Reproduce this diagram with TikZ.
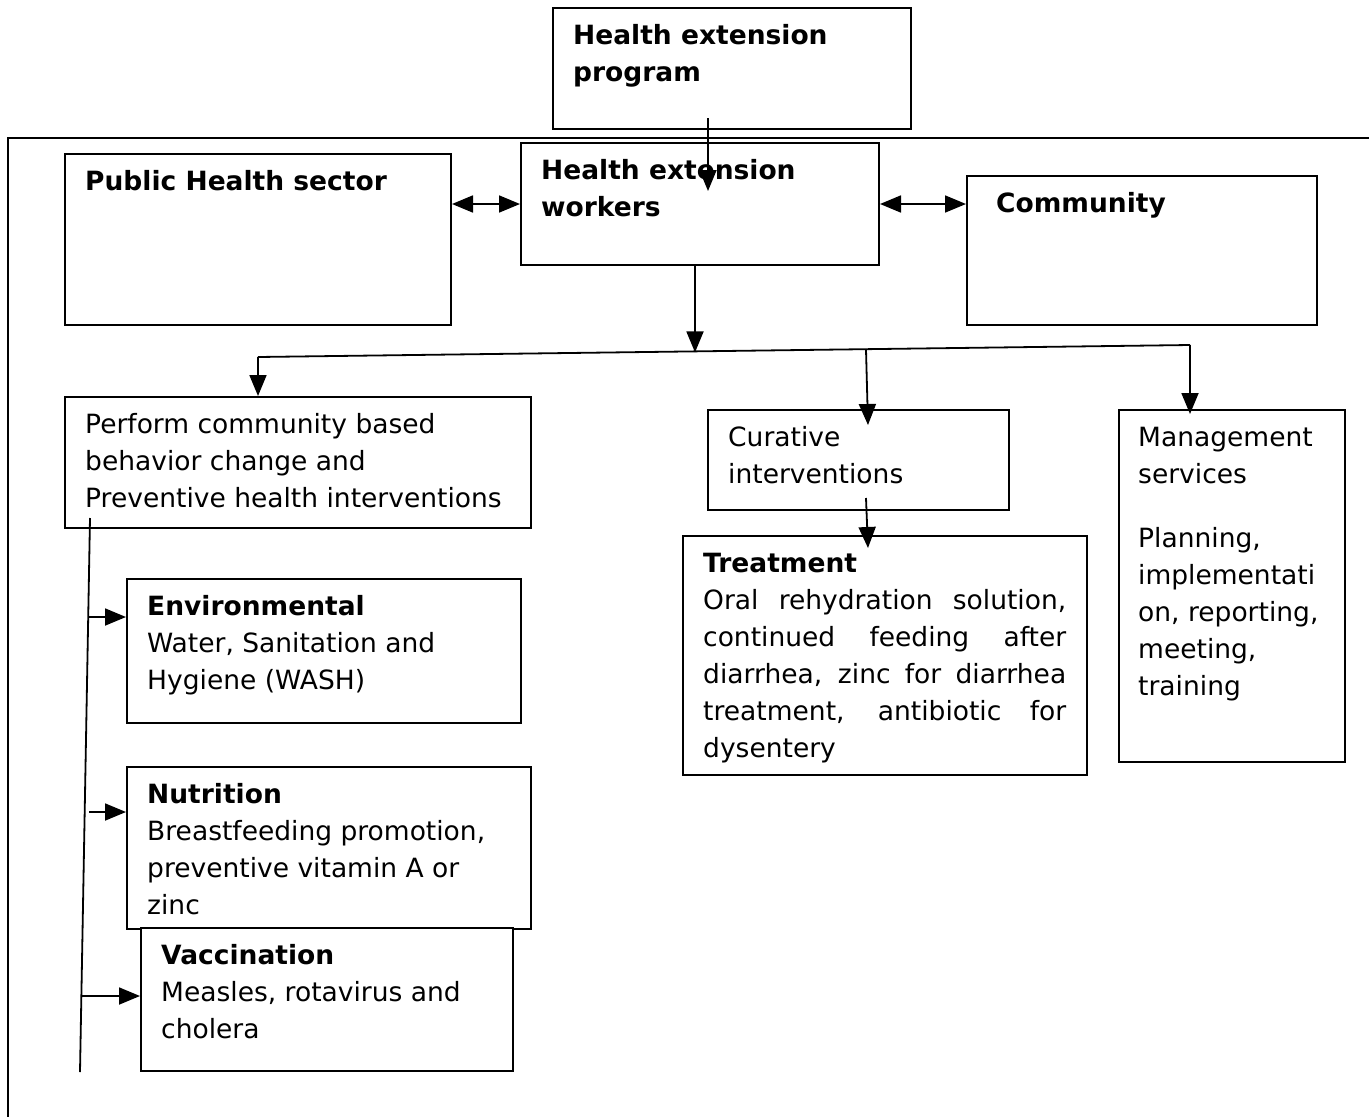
\documentclass[tikz,border=0pt]{standalone}
\usepackage{fontspec}
\setmainfont{DejaVu Sans}
\usetikzlibrary{arrows.meta,calc}
\begin{document}
\begin{tikzpicture}[x=1pt,y=-1pt,
  box/.style={draw, line width=2pt, inner sep=0pt, anchor=north west},
  txt/.style={anchor=north west, inner sep=0pt, align=left, font=\fontsize{26.5}{37}\selectfont},
  conn/.style={line width=1.8pt},
  arr/.style={line width=1.8pt, -{Triangle[length=21pt,width=17pt]}},
  darr/.style={line width=1.8pt, {Triangle[length=21pt,width=17pt]}-{Triangle[length=21pt,width=17pt]}}
]
\useasboundingbox (0,0) rectangle (1369,1117);
% outer frame
\coordinate (fr1) at (1369,138);
\coordinate (fr2) at (8,138);
\coordinate (fr3) at (8,1117);
\draw[conn] (fr1) -- (fr2) -- (fr3);

% boxes
\node[box, minimum width=358pt, minimum height=121pt] (hep) at (552,7) {};
\node[box, minimum width=386pt, minimum height=171pt] (phs) at (64,153) {};
\node[box, minimum width=358pt, minimum height=122pt] (hew) at (520,142) {};
\node[box, minimum width=350pt, minimum height=149pt] (com) at (966,175) {};
\node[box, minimum width=466pt, minimum height=131pt] (perf) at (64,396) {};
\node[box, minimum width=301pt, minimum height=100pt] (cur) at (707,409) {};
\node[box, minimum width=226pt, minimum height=352pt] (man) at (1118,409) {};
\node[box, minimum width=404pt, minimum height=239pt] (trt) at (682,535) {};
\node[box, minimum width=394pt, minimum height=144pt] (env) at (126,578) {};
\node[box, minimum width=404pt, minimum height=162pt] (nut) at (126,766) {};
\node[box, minimum width=372pt, minimum height=143pt, fill=white] (vac) at (140,927) {};

% texts
\node[txt] (thep) at ([xshift=21pt,yshift=-11pt]hep.north west) {\strut\textbf{Health extension}\\\textbf{program}};
\node[txt] (tphs) at ([xshift=21pt,yshift=-11pt]phs.north west) {\strut\textbf{Public Health sector}};
\node[txt] (thew) at ([xshift=21pt,yshift=-11pt]hew.north west) {\strut\textbf{Health extension}\\\textbf{workers}};
\node[txt] (tcom) at ([xshift=30pt,yshift=-11pt]com.north west) {\strut\textbf{Community}};
\node[txt] (tperf) at ([xshift=21pt,yshift=-11pt]perf.north west) {\strut Perform community based\\behavior change and\\Preventive health interventions};
\node[txt] (tcur) at ([xshift=21pt,yshift=-11pt]cur.north west) {\strut Curative\\interventions};
\node[txt] (tman) at ([xshift=20pt,yshift=-11pt]man.north west) {\strut Management\\services\\[27pt]Planning,\\implementati\\on, reporting,\\meeting,\\training};
\node[txt] (ttrt) at ([xshift=21pt,yshift=-11pt]trt.north west) {\strut\textbf{Treatment}\\\makebox[363pt][s]{Oral rehydration solution,}\\\makebox[363pt][s]{continued feeding after}\\\makebox[363pt][s]{diarrhea, zinc for diarrhea}\\\makebox[363pt][s]{treatment, antibiotic for}\\dysentery};
\node[txt] (tenv) at ([xshift=21pt,yshift=-11pt]env.north west) {\strut\textbf{Environmental}\\Water, Sanitation and\\Hygiene (WASH)};
\node[txt] (tnut) at ([xshift=21pt,yshift=-11pt]nut.north west) {\strut\textbf{Nutrition}\\Breastfeeding promotion,\\preventive vitamin A or\\zinc};
\node[txt] (tvac) at ([xshift=21pt,yshift=-11pt]vac.north west) {\strut\textbf{Vaccination}\\Measles, rotavirus and\\cholera};

% connectors
\coordinate (a1) at (708,118);
\coordinate (a2) at (708,191);
\draw[arr] (a1) -- (a2);
\draw[darr] (phs.east |- hew.west) -- (hew.west);
\draw[darr] (hew.east) -- (com.west |- hew.east);

\coordinate (b1) at (258,357);
\coordinate (b2) at (1190,345);
\coordinate (bm) at (695,352.4);
\coordinate (bc) at (866,349.4);
\draw[conn] (b1) -- (b2);
\draw[arr] (hew.south -| bm) -- (bm);
\draw[arr] (b1) -- (b1 |- perf.north);
\coordinate (c1) at (868,425);
\draw[arr] (bc) -- (c1);
\coordinate (m1) at (1190,414);
\draw[arr] (b2) -- (m1);
\coordinate (c2) at (866,498);
\coordinate (c3) at (868,548);
\draw[arr] (c2) -- (c3);

% left vertical line
\coordinate (v1) at (90,518);
\coordinate (v2) at (80,1072);
\draw[conn] (v1) -- (v2);
\coordinate (e1) at (89,617);
\coordinate (n1) at (89,812);
\coordinate (k1) at (82,996);
\draw[arr] (e1) -- (e1 -| env.west);
\draw[arr] (n1) -- (n1 -| nut.west);
\draw[arr] (k1) -- (k1 -| vac.west);
\end{tikzpicture}
\end{document}
